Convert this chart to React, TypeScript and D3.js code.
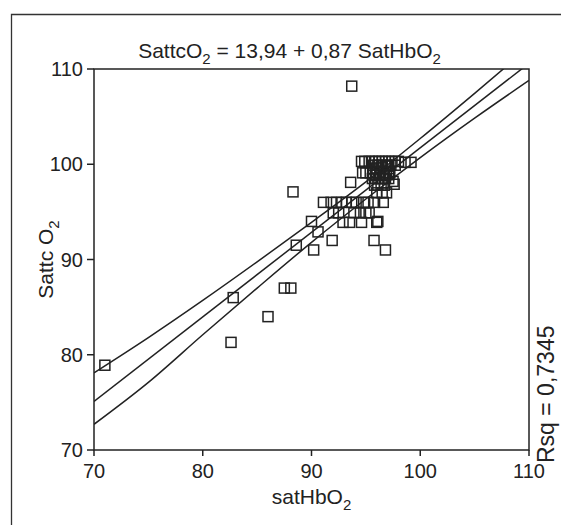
import React from "react";
import * as d3 from "d3";

const W = 561;
const H = 525;

// scatter points [satHbO2, SattcO2]
const pointsX: number[] = [
  71.0, 82.8, 82.6, 86.0, 87.5, 88.1, 88.6, 90.2, 91.9, 90.6, 90.0, 88.3, 93.7, 93.6, 95.75, 96.8, 96.1,
  91.1, 91.8, 92.3, 92.8, 93.2, 93.7, 94.1, 94.8, 95.2, 95.8, 96.6,
  92.0, 92.5, 93.9, 94.5, 95.0, 95.3,
  92.9, 93.5, 94.6, 96.0,
  96.0, 96.5, 96.9,
  94.6, 94.9, 95.3, 95.6, 95.9, 96.2, 96.5, 96.8, 97.1, 97.4, 97.7, 98.0, 98.6, 99.15,
  94.7, 95.0, 95.4, 95.7, 96.0, 96.3, 96.6, 96.9, 97.2,
  95.6, 95.9, 96.2, 96.5, 96.8, 97.1, 97.5, 95.8, 96.1, 96.4, 96.7, 97.6, 95.7, 96.0, 96.4, 97.0,
  95.7, 96.1, 96.5, 96.9, 97.3, 97.7, 95.9, 96.3, 96.7, 97.1,
];
const pointsY: number[] = [
  78.9, 86.0, 81.3, 84.0, 87.0, 87.0, 91.5, 91.0, 92.0, 92.9, 94.0, 97.1, 108.2, 98.1, 92.0, 91.0, 94.0,
  96.0, 96.0, 96.0, 96.0, 96.0, 96.0, 96.0, 96.0, 96.0, 96.0, 96.0,
  94.9, 94.9, 94.9, 94.9, 94.9, 94.9,
  93.9, 93.9, 93.9, 93.9,
  97.0, 97.0, 97.0,
  100.3, 100.3, 100.3, 100.3, 100.3, 100.3, 100.3, 100.3, 100.3, 100.3, 100.3, 100.3, 100.2, 100.2,
  99.1, 99.1, 99.1, 99.1, 99.1, 99.1, 99.1, 99.1, 99.1,
  98.5, 98.5, 98.5, 98.5, 98.5, 98.5, 98.2, 97.8, 97.8, 97.8, 97.8, 97.9, 99.5, 99.6, 99.7, 99.8,
  99.9, 99.9, 99.9, 99.9, 99.9, 99.9, 98.9, 98.9, 98.9, 98.9,
];

// fitted line as drawn, and the confidence band
const fitX: number[] = [70, 110];
const fitY: number[] = [75.1, 110.6];
const bandX: number[] = [70, 75, 80, 85, 90, 95, 100, 105, 110];
const bandUpper: number[] = [78.1, 81.8, 85.7, 89.75, 93.9, 98.15, 102.7, 107.44, 112.3];
const bandLower: number[] = [72.7, 77.1, 82.1, 87.0, 91.8, 96.35, 100.7, 104.84, 108.8];

const ticks: number[] = [70, 80, 90, 100, 110];

const FONT = "'Liberation Sans', Arial, sans-serif";
const INK = "#222";

export default function App() {
  const left = 94, right = 529, top = 69, bottom = 450;
  const x = d3.scaleLinear().domain([70, 110]).range([left, right]);
  const y = d3.scaleLinear().domain([70, 110]).range([bottom, top]);

  const line = d3
    .line<[number, number]>()
    .x((d) => x(d[0]))
    .y((d) => y(d[1]))
    .curve(d3.curveMonotoneX);

  const fitPath = line(fitX.map((v, i) => [v, fitY[i]]));
  const upPath = line(bandX.map((v, i) => [v, bandUpper[i]]));
  const loPath = line(bandX.map((v, i) => [v, bandLower[i]]));

  const sq = 10;

  return (
    <svg
      width={W}
      height={H}
      style={{ position: "absolute", left: 0, top: 0, background: "#fff" }}
      fontFamily={FONT}
    >
      <rect x={0} y={0} width={W} height={H} fill="#fff" />
      {/* outer frame */}
      <path d={`M11.5,${H} V14.5 H${W}`} fill="none" stroke="#333" strokeWidth={1.3} />

      {/* title */}
      <text x={(left + right) / 2 - 22} y={58} textAnchor="middle" fontSize={21} fill={INK}>
        SattcO
        <tspan fontSize={15} dy={6}>2</tspan>
        <tspan dy={-6}> = 13,94 + 0,87 SatHbO</tspan>
        <tspan fontSize={15} dy={6}>2</tspan>
      </text>

      <defs>
        <clipPath id="plotclip">
          <rect x={left} y={top} width={right - left} height={bottom - top} />
        </clipPath>
      </defs>

      {/* points */}
      <g>
        {pointsX.map((px, i) => (
          <rect
            key={i}
            x={x(px) - sq / 2}
            y={y(pointsY[i]) - sq / 2}
            width={sq}
            height={sq}
            fill="none"
            stroke={INK}
            strokeWidth={1.5}
          />
        ))}
      </g>

      {/* regression lines */}
      <g clipPath="url(#plotclip)" fill="none" stroke={INK} strokeWidth={1.5}>
        <path d={fitPath || ""} />
        <path d={upPath || ""} />
        <path d={loPath || ""} />
      </g>

      {/* plot box */}
      <rect x={left} y={top} width={right - left} height={bottom - top} fill="none" stroke={INK} strokeWidth={1.5} />

      {/* y ticks */}
      {ticks.map((t) => (
        <g key={"y" + t}>
          <line x1={left - 7} x2={left} y1={y(t)} y2={y(t)} stroke={INK} strokeWidth={1.5} />
          <text x={left - 11} y={y(t) + 7} textAnchor="end" fontSize={20} fill={INK}>
            {t}
          </text>
        </g>
      ))}
      {/* x ticks */}
      {ticks.map((t) => (
        <g key={"x" + t}>
          <line x1={x(t)} x2={x(t)} y1={bottom} y2={bottom + 6} stroke={INK} strokeWidth={1.5} />
          <text x={x(t)} y={bottom + 28} textAnchor="middle" fontSize={20} fill={INK}>
            {t}
          </text>
        </g>
      ))}

      {/* x axis label */}
      <text x={(left + right) / 2} y={504} textAnchor="middle" fontSize={21} fill={INK}>
        satHbO
        <tspan fontSize={15} dy={6}>2</tspan>
      </text>

      {/* y axis label */}
      <text
        transform={`translate(53,${(top + bottom) / 2}) rotate(-90)`}
        textAnchor="middle"
        fontSize={21}
        fill={INK}
      >
        Sattc O
        <tspan fontSize={15} dy={6}>2</tspan>
      </text>

      {/* Rsq */}
      <text transform={`translate(554,463) rotate(-90)`} textAnchor="start" fontSize={23} fill={INK}>
        Rsq = 0,7345
      </text>
    </svg>
  );
}
